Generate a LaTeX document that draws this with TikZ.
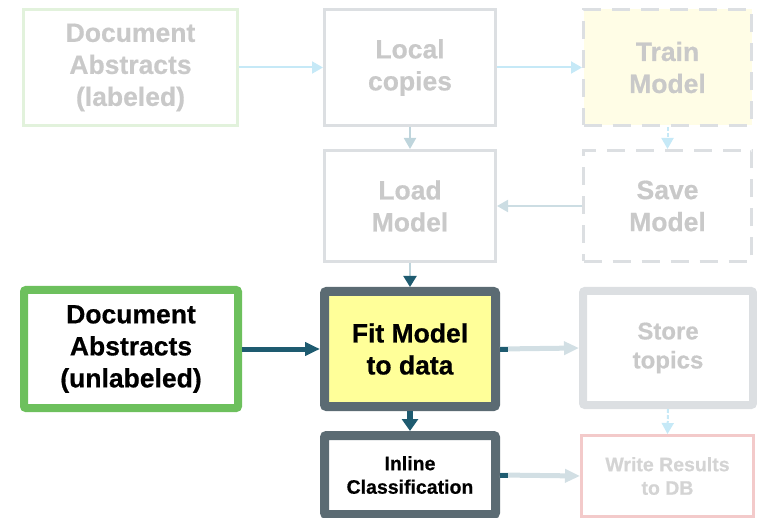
\documentclass[tikz,border=0pt]{standalone}
\usepackage{fontspec}
\setmainfont{Liberation Sans}[BoldFeatures={FakeBold=0.6}]
\usetikzlibrary{arrows.meta}
\definecolor{fadegrey}{HTML}{DCDFE2}
\definecolor{fadetext}{HTML}{C9C9C9}
\definecolor{fadegreen}{HTML}{E2F2DC}
\definecolor{fadeblue}{HTML}{C6E9F7}
\definecolor{fadeteal}{HTML}{BFD5DC}
\definecolor{fadeyellow}{HTML}{FFFDE6}
\definecolor{fadepink}{HTML}{F3CACA}
\definecolor{boxgreen}{HTML}{6DC05D}
\definecolor{boxdark}{HTML}{5B6B73}
\definecolor{arrteal}{HTML}{1E5B70}
\definecolor{fityellow}{HTML}{FFFF99}
\definecolor{lightarr}{HTML}{D2DFE4}
\tikzset{
  x=1pt, y=-1pt,
  bigtxt/.style={font=\fontsize{26.5}{32}\selectfont\bfseries, align=center, inner sep=0pt},
  midtxt/.style={font=\fontsize{24}{29}\selectfont\bfseries, align=center, inner sep=0pt},
  smalltxt/.style={font=\fontsize{19.5}{23.5}\selectfont\bfseries, align=center, inner sep=0pt},
  fadebox/.style={draw=fadegrey, line width=3pt, text=fadetext},
  dashbox/.style={fadebox, dash pattern=on 18pt off 11pt},
  thinarrow/.style={line width=2pt, -{Triangle[length=11pt,width=12pt]}},
  fatarrow/.style={line width=5pt, -{Triangle[length=15pt,width=13pt]}},
}
\begin{document}
\begin{tikzpicture}
\useasboundingbox (0,0) rectangle (757,518);
% top row
\node[bigtxt, draw=fadegreen, line width=3pt, text=fadetext, minimum width=214pt, minimum height=116pt] (dl) at (130.5,67.5) {Document\\Abstracts\\(labeled)};
\node[bigtxt, fadebox, minimum width=171pt, minimum height=116pt] (lc) at (410,67.5) {Local\\copies};
\node[bigtxt, dashbox, fill=fadeyellow, minimum width=168pt, minimum height=116pt] (tm) at (667.5,67.5) {Train\\Model};
% second row
\node[bigtxt, fadebox, minimum width=171pt, minimum height=111pt] (lm) at (410,206) {Load\\Model};
\node[bigtxt, dashbox, minimum width=168pt, minimum height=111pt] (sm) at (667.5,206) {Save\\Model};
% third row
\node[bigtxt, draw=boxgreen, line width=8pt, rounded corners=2pt, text=black, minimum width=214pt, minimum height=118pt] (du) at (131,349) {Document\\Abstracts\\(unlabeled)};
\node[bigtxt, draw=boxdark, line width=9pt, rounded corners=2pt, fill=fityellow, text=black, minimum width=171pt, minimum height=115pt] (fm) at (410,349) {Fit Model\\to data};
\node[midtxt, draw=fadegrey, line width=8pt, rounded corners=2pt, text=fadetext, minimum width=170pt, minimum height=114pt] (st) at (668,348) {Store\\topics};
% fourth row
\node[smalltxt, draw=boxdark, line width=9pt, rounded corners=2pt, text=black, minimum width=171pt, minimum height=79pt] (ic) at (410,475) {Inline\\Classification};
\node[smalltxt, draw=fadepink, line width=3pt, text=fadetext!80!white, minimum width=172pt, minimum height=81pt] (wr) at (667.5,476) {Write Results\\to DB};
% connectors
\draw[thinarrow, fadeblue] (dl.east) -- (lc.west);
\draw[thinarrow, fadeblue] (lc.east) -- (tm.west);
\draw[thinarrow, fadeteal] (lc.south) -- (lm.north);
\draw[thinarrow, fadeblue, dash pattern=on 4pt off 2pt] (tm.south) -- (sm.north);
\draw[thinarrow, fadeteal!80!white] (sm.west) -- (lm.east);
\draw[line width=2pt, fadeteal, -{Triangle[length=11pt,width=13pt,color=arrteal]}] (lm.south) -- (fm.north);
\draw[fatarrow, arrteal] (du.east) -- (fm.west);
\draw[fatarrow, lightarr] (fm.east) -- (st.west);
\draw[line width=5pt, arrteal] (fm.east) -- ++(8,0);
\draw[line width=6pt, arrteal, -{Triangle[length=12pt,width=16pt]}] (fm.south) -- (ic.north);
\draw[thinarrow, fadeblue, dash pattern=on 4pt off 2pt] (st.south) -- (wr.north);
\draw[fatarrow, lightarr] (ic.east) -- (wr.west);
\draw[line width=5pt, arrteal] (ic.east) -- ++(8,0);
\end{tikzpicture}
\end{document}
